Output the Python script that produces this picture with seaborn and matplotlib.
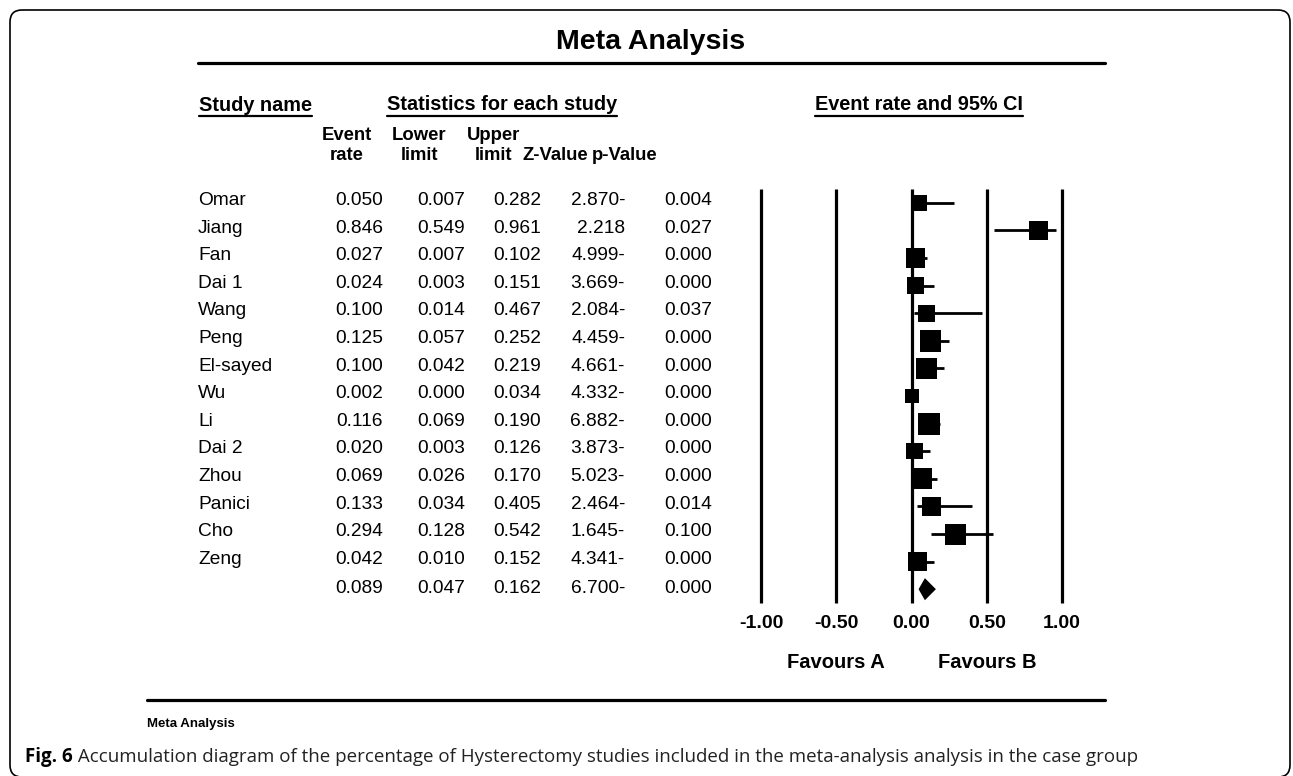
import numpy as np
import pandas as pd
import matplotlib
matplotlib.use("Agg")
import matplotlib.pyplot as plt
import matplotlib.transforms as mtransforms
from matplotlib.patches import FancyBboxPatch
from matplotlib.lines import Line2D
import seaborn as sns

# datos del forest plot
studies = ["Omar", "Jiang", "Fan", "Dai 1", "Wang", "Peng", "El-sayed", "Wu",
           "Li", "Dai 2", "Zhou", "Panici", "Cho", "Zeng"]
event_rate = [0.050, 0.846, 0.027, 0.024, 0.100, 0.125, 0.100, 0.002,
              0.116, 0.020, 0.069, 0.133, 0.294, 0.042]
lower_limit = [0.007, 0.549, 0.007, 0.003, 0.014, 0.057, 0.042, 0.000,
               0.069, 0.003, 0.026, 0.034, 0.128, 0.010]
upper_limit = [0.282, 0.961, 0.102, 0.151, 0.467, 0.252, 0.219, 0.034,
               0.190, 0.126, 0.170, 0.405, 0.542, 0.152]
z_value = ["2.870-", "2.218", "4.999-", "3.669-", "2.084-", "4.459-", "4.661-",
           "4.332-", "6.882-", "3.873-", "5.023-", "2.464-", "1.645-", "4.341-"]
p_value = ["0.004", "0.027", "0.000", "0.000", "0.037", "0.000", "0.000",
           "0.000", "0.000", "0.000", "0.000", "0.014", "0.100", "0.000"]
# peso relativo (tamano del cuadrado)
weight = [16.5, 19, 19.5, 17, 17, 21.5, 21, 14, 22, 16.5, 21, 19, 21, 19]

# resultado combinado
total = {"rate": 0.089, "lower": 0.047, "upper": 0.162, "z": "6.700-", "p": "0.000"}

axis_ticks = [-1.0, -0.5, 0.0, 0.5, 1.0]
axis_labels = ["-1.00", "-0.50", "0.00", "0.50", "1.00"]

df = pd.DataFrame({"study": studies, "rate": event_rate, "lower": lower_limit,
                   "upper": upper_limit, "z": z_value, "p": p_value, "w": weight})
df["row"] = np.arange(len(df))
summary_row = len(df)

sns.set_theme(style="white")
plt.rcParams["font.family"] = ["Liberation Sans", "DejaVu Sans"]
plt.rcParams["text.color"] = "black"

W, H = 1293, 776
fig = plt.figure(figsize=(W / 100, H / 100), dpi=100)
fig.patch.set_facecolor("white")


def fx(x):
    return x / W


def fy(y):
    return 1 - y / H


# eje del forest plot (x de -1 a 1)
ax = fig.add_axes([fx(761), fy(603), 301 / W, 414 / H])
ax.set_xlim(-1, 1)
ax.set_ylim(summary_row + 0.5, -0.5)
ax.axis("off")

ax.vlines(axis_ticks, -0.5, summary_row + 0.5, color="black", lw=2.3, clip_on=False)
ax.hlines(df["row"], df["lower"], df["upper"], color="black", lw=2.0, zorder=3)
sns.scatterplot(x=df["rate"], y=df["row"], s=(df["w"] * 0.72) ** 2, marker="s",
                color="black", linewidth=0, legend=False, ax=ax, zorder=4)

# diamante del total
dh = 0.4
ax.fill([total["lower"], total["rate"], total["upper"], total["rate"]],
        [summary_row, summary_row - dh, summary_row, summary_row + dh],
        color="black", zorder=4, lw=0)

xfig = mtransforms.blended_transform_factory(ax.transData, fig.transFigure)
for t, lab in zip(axis_ticks, axis_labels):
    ax.text(t, fy(628), lab, transform=xfig, ha="center", va="baseline",
            fontsize=14, fontweight="bold")
ax.text(-0.5, fy(668), "Favours A", transform=xfig, ha="center", va="baseline",
        fontsize=14.5, fontweight="bold")
ax.text(0.5, fy(668), "Favours B", transform=xfig, ha="center", va="baseline",
        fontsize=14.5, fontweight="bold")

# tabla de texto
rowt = mtransforms.blended_transform_factory(fig.transFigure, ax.transData)
col_right = [383, 465, 541, 625, 712]
fs = 13.8
for _, r in df.iterrows():
    y = r["row"] - 0.08
    fig.text(fx(198), y, r["study"], transform=rowt, ha="left", va="center", fontsize=fs)
    vals = [f"{r['rate']:.3f}", f"{r['lower']:.3f}", f"{r['upper']:.3f}", r["z"], r["p"]]
    for cx, v in zip(col_right, vals):
        fig.text(fx(cx), y, v, transform=rowt, ha="right", va="center", fontsize=fs)
tot_vals = [f"{total['rate']:.3f}", f"{total['lower']:.3f}", f"{total['upper']:.3f}",
            total["z"], total["p"]]
for cx, v in zip(col_right, tot_vals):
    fig.text(fx(cx), summary_row - 0.02, v, transform=rowt, ha="right", va="center", fontsize=fs)

# titulo y encabezados
fig.text(fx(651), fy(49), "Meta Analysis", ha="center", va="baseline",
         fontsize=20.5, fontweight="bold")
fig.add_artist(Line2D([fx(198), fx(1105)], [fy(62.5), fy(62.5)], color="black", lw=2.3))

renderer = fig.canvas.get_renderer()
heads = [
    fig.text(fx(199), fy(111), "Study name", ha="left", va="baseline",
             fontsize=14.3, fontweight="bold"),
    fig.text(fx(502), fy(110), "Statistics for each study", ha="center", va="baseline",
             fontsize=14.3, fontweight="bold"),
    fig.text(fx(919), fy(110), "Event rate and 95% CI", ha="center", va="baseline",
             fontsize=14.3, fontweight="bold"),
]
for h in heads:
    bb = h.get_window_extent(renderer)
    fig.add_artist(Line2D([bb.x0 / W, bb.x1 / W], [fy(115.5), fy(115.5)],
                          color="black", lw=1.6))

sub_heads = [(347, "Event", "rate"), (419, "Lower", "limit"), (494, "Upper", "limit"),
             (555, "", "Z-Value"), (625, "", "p-Value")]
for cx, top, bot in sub_heads:
    if top:
        fig.text(fx(cx), fy(140), top, ha="center", va="baseline", fontsize=13.3, fontweight="bold")
    fig.text(fx(cx), fy(160), bot, ha="center", va="baseline", fontsize=13.3, fontweight="bold")

# linea inferior y pie
fig.add_artist(Line2D([fx(147), fx(1105)], [fy(700), fy(700)], color="black", lw=2.3))
fig.text(fx(147), fy(727), "Meta Analysis", ha="left", va="baseline",
         fontsize=9.5, fontweight="bold")

cap_font = ["Open Sans", "DejaVu Sans"]
cap_fs = 12.0
t1 = fig.text(fx(25), fy(762), "Fig. 6", ha="left", va="baseline", fontsize=cap_fs,
              fontweight="bold", family=cap_font)
b1 = t1.get_window_extent(renderer)
t2 = fig.text(b1.x1 / W, fy(762),
              " Accumulation diagram of the percentage of Hysterectomy studies included "
              "in the meta-analysis analysis in the case group",
              ha="left", va="baseline", fontsize=cap_fs, family=cap_font, color="#222222")
b2 = t2.get_window_extent(renderer)
scale = (1135 - 25) / (b2.x1 - b1.x0)
cap_fs = cap_fs * scale
t1.set_fontsize(cap_fs)
b1 = t1.get_window_extent(renderer)
t2.set_fontsize(cap_fs)
t2.set_x(b1.x1 / W)

# marco redondeado (el borde inferior queda en el limite de la imagen)
frame = FancyBboxPatch((10, -1), 1280, 767, boxstyle="round,pad=0,rounding_size=12",
                       transform=mtransforms.IdentityTransform(), fill=False,
                       edgecolor="black", lw=1.2)
fig.add_artist(frame)

fig.savefig("out.png", dpi=100)
